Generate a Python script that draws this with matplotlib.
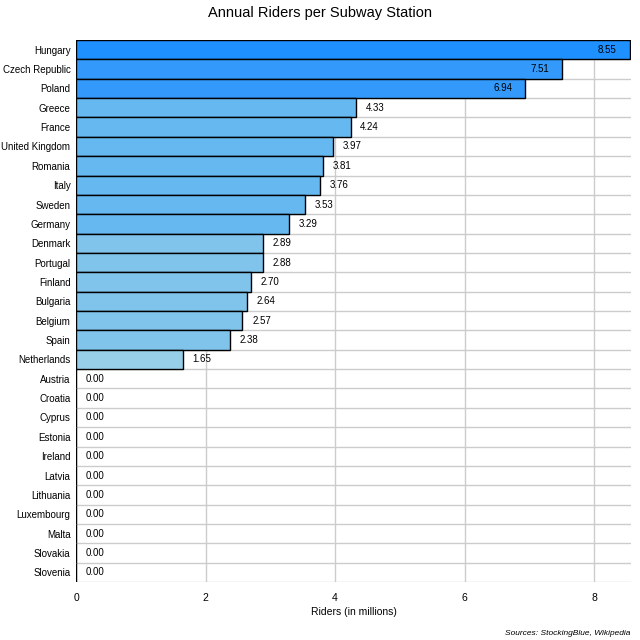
import matplotlib
matplotlib.use("Agg")
import matplotlib.pyplot as plt
import numpy as np

plt.rcParams['font.family'] = ['Liberation Sans', 'DejaVu Sans']

countries = ["Hungary","Czech Republic","Poland","Greece","France","United Kingdom","Romania","Italy","Sweden","Germany","Denmark","Portugal","Finland","Bulgaria","Belgium","Spain","Netherlands","Austria","Croatia","Cyprus","Estonia","Ireland","Latvia","Lithuania","Luxembourg","Malta","Slovakia","Slovenia"]
values = [8.55,7.51,6.94,4.33,4.24,3.97,3.81,3.76,3.53,3.29,2.89,2.88,2.70,2.64,2.57,2.38,1.65]+[0.0]*11

def color(v):
    if v > 8: return "#1e90ff"
    if v > 6: return "#3399fb"
    if v > 3.2: return "#66b8f0"
    if v > 2: return "#80c4ec"
    return "#98cfe8"

fig = plt.figure(figsize=(6.4,6.4), dpi=100)
ax = fig.add_axes([76/640, 1-582/640, 555/640, 542/640])
n = len(countries)
y = np.arange(n)
ax.barh(y, values, height=1.0, color=[color(v) for v in values], edgecolor="black", linewidth=1, zorder=3)
ax.set_ylim(n-0.5, -0.5)
ax.set_xlim(0, 8.57)
ax.set_yticks(y)
ax.set_yticklabels(countries, fontsize=7)
ax.set_yticks(np.arange(-0.5, n, 1), minor=True)
ax.set_xticks([0,2,4,6,8])
ax.tick_params(axis="x", labelsize=7.5, length=0, pad=8)
ax.tick_params(axis="y", which="both", length=0, pad=4)
ax.grid(True, axis="x", color="#cccccc", linewidth=1, zorder=0)
ax.grid(True, axis="y", which="minor", color="#cccccc", linewidth=1, zorder=0)
for s in ax.spines.values():
    s.set_visible(False)
for i, v in enumerate(values):
    if v > 6:
        ax.text(v-0.2, i, f"{v:.2f}", ha="right", va="center", fontsize=7, zorder=4)
    else:
        ax.text(v+0.15, i, f"{v:.2f}", ha="left", va="center", fontsize=7, zorder=4)
ax.set_xlabel("Riders (in millions)", fontsize=7.5, labelpad=3)
fig.suptitle("Annual Riders per Subway Station", y=0.99, fontsize=10.5)
fig.text(0.985, 0.005, "Sources: StockingBlue, Wikipedia", ha="right", va="bottom", fontsize=6, style="italic")
fig.savefig("out.png", dpi=100)
